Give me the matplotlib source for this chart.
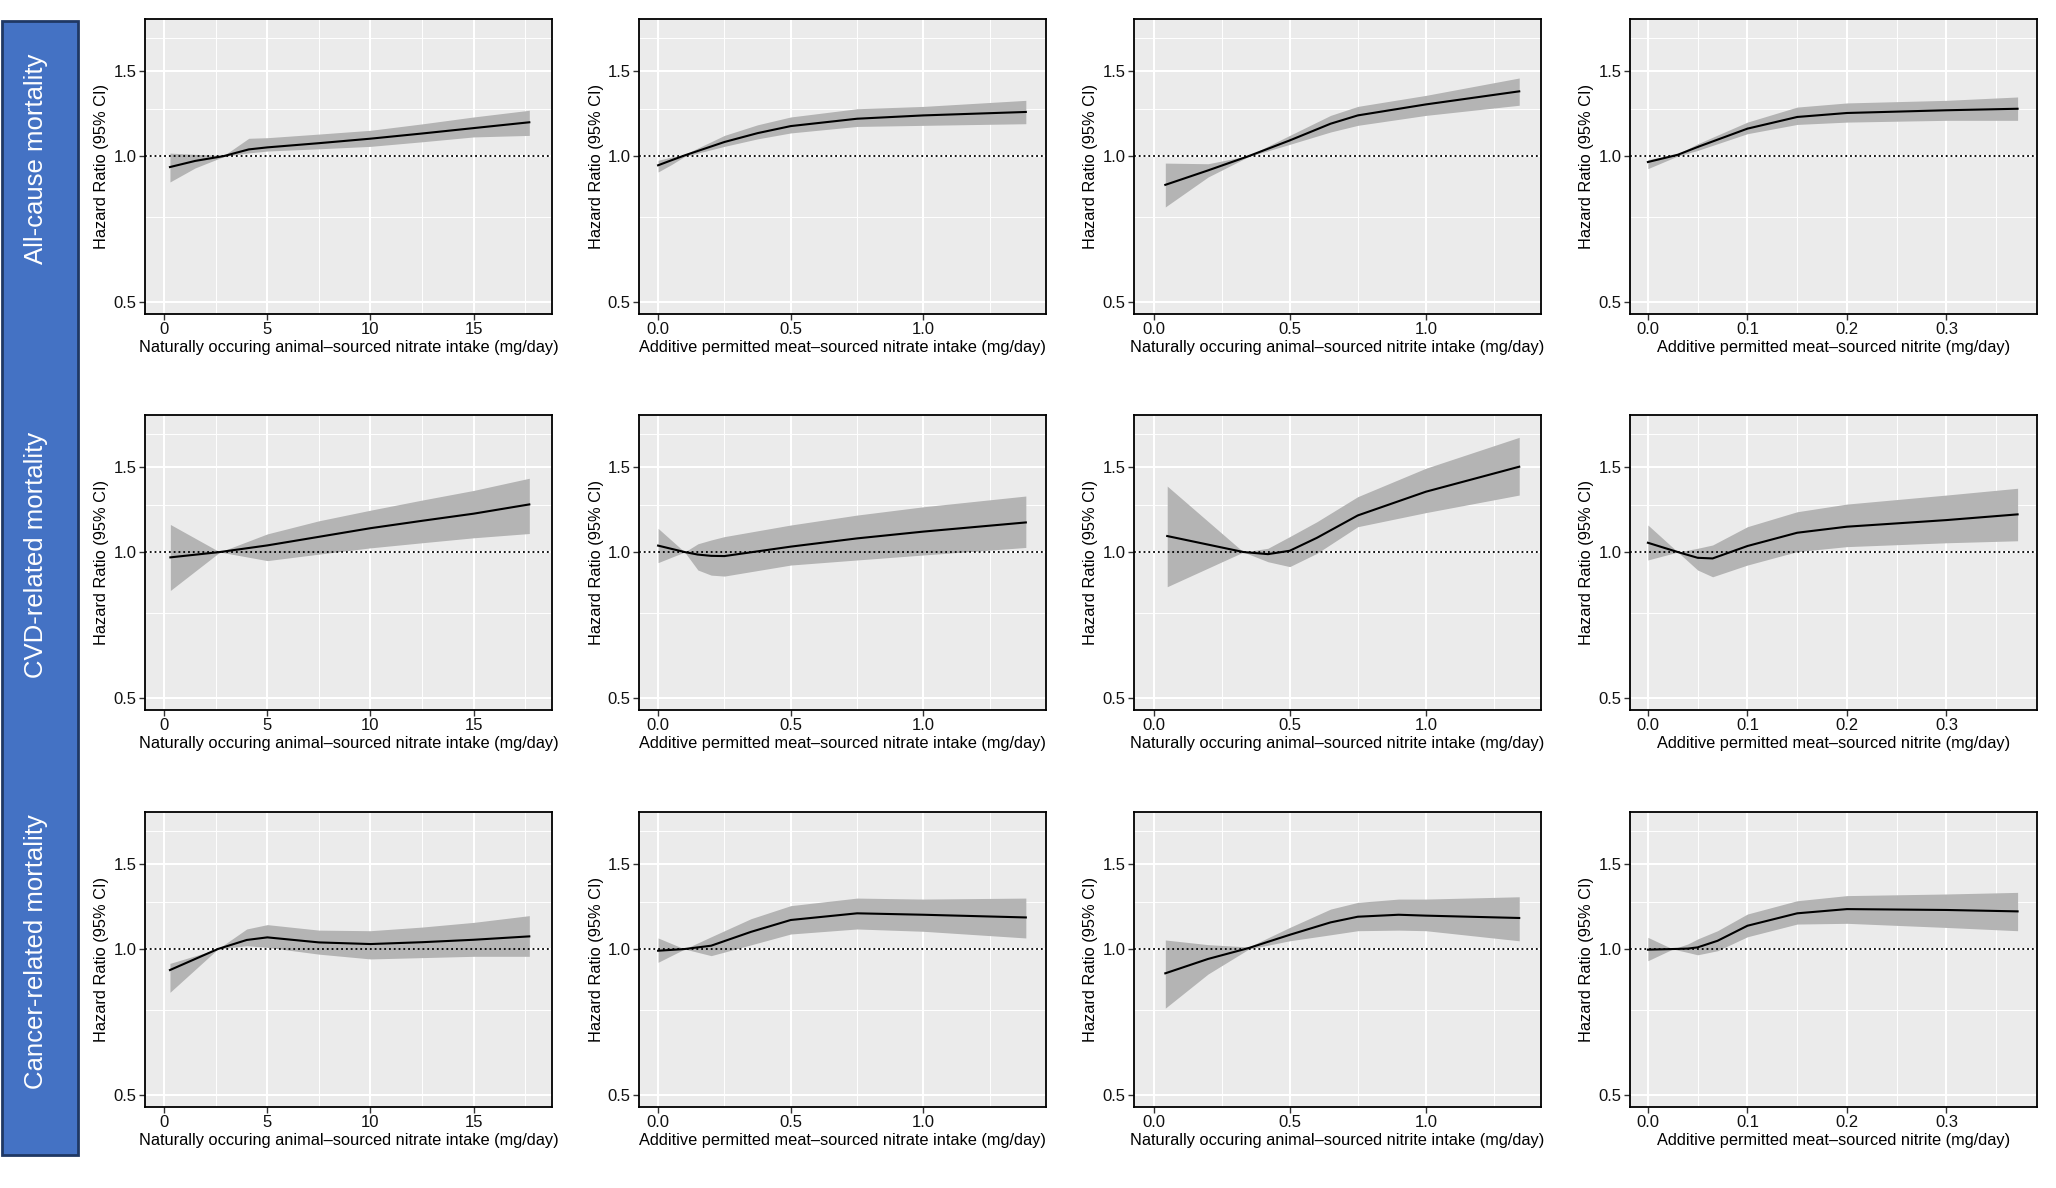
import matplotlib
matplotlib.use('Agg')
import matplotlib.pyplot as plt
from matplotlib.patches import Rectangle
from matplotlib.ticker import FixedLocator, NullFormatter

plt.rcParams['font.family'] = ['Liberation Sans', 'DejaVu Sans']

# ---- data (HR with 95% CI) ----
rows = ['All-cause mortality', 'CVD-related mortality', 'Cancer-related mortality']

xlabels = ['Naturally occuring animal\u2013sourced nitrate intake (mg/day)',
           'Additive permitted meat\u2013sourced nitrate intake (mg/day)',
           'Naturally occuring animal\u2013sourced nitrite intake (mg/day)',
           'Additive permitted meat\u2013sourced nitrite (mg/day)']
xticks = [[0, 5, 10, 15], [0.0, 0.5, 1.0], [0.0, 0.5, 1.0], [0.0, 0.1, 0.2, 0.3]]
xticklabels = [['0', '5', '10', '15'], ['0.0', '0.5', '1.0'], ['0.0', '0.5', '1.0'],
               ['0.0', '0.1', '0.2', '0.3']]
xminor = [[2.5, 7.5, 12.5, 17.5], [0.25, 0.75, 1.25], [0.25, 0.75, 1.25],
          [0.05, 0.15, 0.25, 0.35]]
xlims = [(-0.93, 18.8), (-0.072, 1.462), (-0.072, 1.423), (-0.018, 0.391)]

# all-cause
x11 = [0.28, 1.5, 2.9, 4.1, 5, 7.5, 10, 12.5, 15, 17.7]
hr11 = [0.949, 0.977, 1.0, 1.032, 1.042, 1.063, 1.086, 1.113, 1.142, 1.174]
lo11 = [0.884, 0.945, 0.998, 1.015, 1.024, 1.035, 1.047, 1.07, 1.095, 1.103]
hi11 = [1.014, 1.008, 1.003, 1.088, 1.091, 1.11, 1.13, 1.165, 1.204, 1.243]

x12 = [0.0, 0.05, 0.1, 0.25, 0.375, 0.5, 0.75, 1.0, 1.386]
hr12 = [0.957, 0.98, 1.003, 1.069, 1.115, 1.153, 1.194, 1.213, 1.233]
lo12 = [0.927, 0.96, 0.998, 1.047, 1.085, 1.116, 1.151, 1.157, 1.166]
hi12 = [0.980, 0.995, 1.008, 1.103, 1.16, 1.204, 1.252, 1.266, 1.303]

x13 = [0.043, 0.2, 0.35, 0.5, 0.65, 0.75, 1.0, 1.343]
hr13 = [0.872, 0.934, 1.0, 1.077, 1.166, 1.213, 1.278, 1.360]
lo13 = [0.785, 0.905, 0.998, 1.057, 1.121, 1.157, 1.213, 1.273]
hi13 = [0.967, 0.964, 1.002, 1.103, 1.213, 1.266, 1.334, 1.449]

x14 = [0.0, 0.03, 0.05, 0.1, 0.15, 0.2, 0.3, 0.3715]
hr14 = [0.972, 1.006, 1.044, 1.139, 1.204, 1.227, 1.243, 1.252]
lo14 = [0.942, 1.0, 1.027, 1.112, 1.162, 1.175, 1.185, 1.185]
hi14 = [0.983, 1.01, 1.060, 1.175, 1.262, 1.287, 1.303, 1.324]

# CVD-related
x21 = [0.3, 2.7, 5, 7.5, 10, 12.5, 15, 17.7]
hr21 = [0.975, 1.0, 1.032, 1.075, 1.12, 1.16, 1.2, 1.254]
lo21 = [0.833, 1.0, 0.96, 0.99, 1.02, 1.045, 1.07, 1.092]
hi21 = [1.14, 1.0, 1.09, 1.16, 1.22, 1.28, 1.34, 1.42]

x22 = [0.0, 0.1, 0.15, 0.2, 0.25, 0.5, 0.75, 1.0, 1.386]
hr22 = [1.031, 1.0, 0.988, 0.982, 0.981, 1.026, 1.067, 1.102, 1.151]
lo22 = [0.951, 1.0, 0.918, 0.896, 0.892, 0.940, 0.963, 0.986, 1.022]
hi22 = [1.119, 1.0, 1.04, 1.059, 1.076, 1.137, 1.192, 1.240, 1.305]

x23 = [0.05, 0.33, 0.42, 0.5, 0.6, 0.75, 1.0, 1.343]
hr23 = [1.079, 1.0, 0.99, 1.006, 1.07, 1.19, 1.332, 1.500]
lo23 = [0.848, 1.0, 0.955, 0.933, 0.994, 1.128, 1.206, 1.311]
hi23 = [1.368, 1.0, 1.018, 1.076, 1.155, 1.301, 1.489, 1.725]

x24 = [0.0, 0.03, 0.05, 0.065, 0.1, 0.15, 0.2, 0.3, 0.3715]
hr24 = [1.045, 1.0, 0.973, 0.970, 1.029, 1.096, 1.128, 1.164, 1.196]
lo24 = [0.963, 1.0, 0.918, 0.889, 0.940, 1.002, 1.026, 1.045, 1.055]
hi24 = [1.137, 1.0, 1.018, 1.034, 1.128, 1.211, 1.256, 1.311, 1.354]

# cancer-related
x31 = [0.28, 2.6, 4, 5, 7.5, 10, 12.5, 15, 17.7]
hr31 = [0.905, 1.0, 1.044, 1.057, 1.032, 1.024, 1.033, 1.045, 1.062]
lo31 = [0.814, 1.0, 1.016, 1.008, 0.976, 0.954, 0.96, 0.966, 0.966]
hi31 = [0.934, 1.0, 1.100, 1.123, 1.094, 1.091, 1.11, 1.135, 1.172]

x32 = [0.0, 0.1, 0.2, 0.35, 0.5, 0.75, 1.0, 1.386]
hr32 = [0.992, 1.0, 1.016, 1.085, 1.148, 1.185, 1.177, 1.162]
lo32 = [0.939, 1.0, 0.969, 1.02, 1.074, 1.100, 1.088, 1.054]
hi32 = [1.054, 1.0, 1.06, 1.155, 1.229, 1.274, 1.268, 1.274]

x33 = [0.043, 0.2, 0.35, 0.5, 0.65, 0.75, 0.9, 1.0, 1.343]
hr33 = [0.891, 0.954, 1.005, 1.070, 1.135, 1.166, 1.177, 1.172, 1.159]
lo33 = [0.755, 0.888, 1.0, 1.040, 1.070, 1.091, 1.094, 1.091, 1.040]
hi33 = [1.044, 1.021, 1.01, 1.108, 1.209, 1.248, 1.268, 1.268, 1.282]

x34 = [0.0, 0.025, 0.04, 0.05, 0.07, 0.1, 0.15, 0.2, 0.3, 0.3715]
hr34 = [0.997, 1.0, 1.002, 1.008, 1.04, 1.117, 1.185, 1.209, 1.204, 1.196]
lo34 = [0.946, 1.0, 0.984, 0.973, 0.992, 1.060, 1.126, 1.130, 1.108, 1.091]
hi34 = [1.057, 1.0, 1.024, 1.049, 1.091, 1.181, 1.258, 1.289, 1.299, 1.309]

panels = [[(x11, hr11, lo11, hi11), (x12, hr12, lo12, hi12), (x13, hr13, lo13, hi13), (x14, hr14, lo14, hi14)],
          [(x21, hr21, lo21, hi21), (x22, hr22, lo22, hi22), (x23, hr23, lo23, hi23), (x24, hr24, lo24, hi24)],
          [(x31, hr31, lo31, hi31), (x32, hr32, lo32, hi32), (x33, hr33, lo33, hi33), (x34, hr34, lo34, hi34)]]

# ---- layout (pixels) ----
W, H = 2056, 1188
col_left = [145, 639, 1134, 1630]
row_top = [19, 415, 812]
pw, ph = 407, 295

fig = plt.figure(figsize=(W / 100, H / 100), dpi=100)

# blue row-label strip
fig.patches.append(Rectangle((2 / W, 1 - 1155 / H), 76 / W, (1155 - 21) / H,
                             transform=fig.transFigure, facecolor='#4472C4',
                             edgecolor='#1F3864', lw=2))
for r, name in enumerate(rows):
    yc = row_top[r] + ph / 2 - 8
    fig.text(36 / W, 1 - yc / H, name, rotation=90, color='white', fontsize=18.5,
             ha='center', va='center')

for r in range(3):
    for c in range(4):
        x, hr, lo, hi = panels[r][c]
        ax = fig.add_axes([col_left[c] / W, 1 - (row_top[r] + ph) / H, pw / W, ph / H])
        ax.set_facecolor('#EBEBEB')
        ax.set_yscale('log')
        ax.set_ylim(0.472, 1.918)
        ax.set_xlim(*xlims[c])
        ax.yaxis.set_major_locator(FixedLocator([0.5, 1.0, 1.5]))
        ax.yaxis.set_minor_locator(FixedLocator([0.75, 1.25, 1.75]))
        ax.yaxis.set_minor_formatter(NullFormatter())
        ax.set_yticklabels(['0.5', '1.0', '1.5'])
        ax.set_xticks(xticks[c])
        ax.set_xticklabels(xticklabels[c])
        ax.xaxis.set_minor_locator(FixedLocator(xminor[c]))
        ax.grid(which='major', color='white', lw=1.5)
        ax.grid(which='minor', color='white', lw=0.7)
        ax.set_axisbelow(True)
        ax.tick_params(which='major', length=4, width=1, color='#333333',
                       labelsize=12, labelcolor='#111111', pad=2)
        ax.tick_params(which='minor', length=0)
        for s in ax.spines.values():
            s.set_color('black')
            s.set_linewidth(1.3)

        ax.fill_between(x, lo, hi, color='#B4B4B4', lw=0, zorder=2)
        ax.plot(x, hr, color='black', lw=1.5, zorder=3)
        ax.axhline(1.0, color='black', ls=':', lw=1.3, zorder=4)

        ax.set_ylabel('Hazard Ratio (95% CI)', fontsize=11.8, labelpad=3)
        ax.set_xlabel(xlabels[c], fontsize=11.8, labelpad=2)

fig.savefig('out.png', dpi=100)
